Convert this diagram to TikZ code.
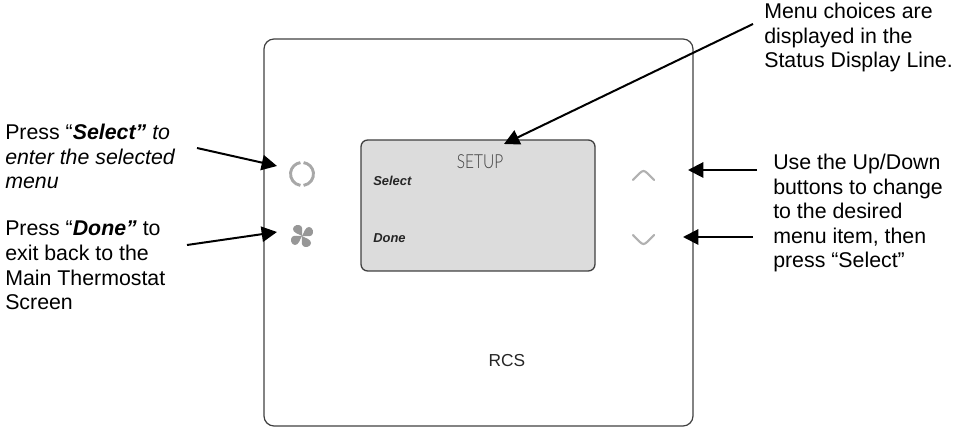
\documentclass[tikz,border=0pt]{standalone}
\usepackage{fontspec}
\setmainfont{Liberation Sans}
\newfontfamily\lcdfont{Lato Light}
\usetikzlibrary{arrows.meta}
\definecolor{framegray}{HTML}{404040}
\definecolor{lcdgray}{HTML}{DCDCDC}
\definecolor{icongray}{HTML}{A8A8A8}
\tikzset{
  calllabel/.style={anchor=north west,inner sep=0pt,align=left,font=\fontsize{16pt}{18.4pt}\selectfont},
  calloutarrow/.style={line width=1.5pt,-{Triangle[length=11.5pt,width=11.5pt]}},
  softkey/.style={anchor=west,inner sep=0pt,text=black!85,font=\fontsize{9.7pt}{11pt}\selectfont\bfseries\itshape},
  chevron/.style={draw=icongray!90,line width=1.6pt,line join=round,line cap=round}
}
\begin{document}
\begin{tikzpicture}[x=0.75pt,y=-0.75pt]
\useasboundingbox (0,0) rectangle (961,427);

% thermostat body and display
\draw[framegray,line width=0.9pt,rounded corners=7.5pt] (264,39) rectangle (693,426);
\draw[framegray,line width=1pt,fill=lcdgray,rounded corners=5pt] (361,140) rectangle (595,271);
\node[inner sep=0pt,text=black!75,font=\fontsize{14.5pt}{15pt}\lcdfont] (setup) at (480,162) {\scalebox{0.8}[1]{SETUP}};
\node[softkey] (selectkey) at (373,181) {Select};
\node[softkey] (donekey) at (373,238) {Done};
\node[inner sep=0pt,text=black!85,font=\fontsize{13pt}{14pt}\selectfont] (rcs) at (507,361) {RCS};

% buttons
\draw[icongray,line width=2.2pt] (302,174) ++(82:11.5) arc (82:-82:11.5);
\draw[icongray,line width=2.2pt] (302,174) ++(98:11.5) arc (98:262:11.5);
\foreach \ang in {0,90,180,270}
  \fill[icongray!90!black,shift={(302,236)},rotate=\ang]
    (0,0) .. controls (-3,-2) and (-9,-3) .. (-9,-7) .. controls (-9,-11) and (-3,-12) .. (-1,-10) .. controls (1,-8) and (0,-3) .. (0,0);
\draw[chevron] (633,180) .. controls (638,175) and (641,171) .. (643.5,171) .. controls (646,171) and (649,175) .. (654,180);
\draw[chevron] (633,235) .. controls (638,240) and (641,244) .. (643.5,244) .. controls (646,244) and (649,240) .. (654,235);

% labels
\node[calllabel] (selectnote) at (5,124) {Press ``\textbf{\textit{Select''}} \textit{to}\\\textit{enter the selected}\\\textit{menu}};
\node[calllabel] (donenote) at (5,221) {Press ``\textbf{\textit{Done''}} to\\exit back to the\\Main Thermostat\\Screen};
\node[calllabel] (statusnote) at (764,3) {Menu choices are\\displayed in the\\Status Display Line.};
\node[calllabel] (updownnote) at (773,154) {Use the Up/Down\\buttons to change\\to the desired\\menu item, then\\press ``Select''};

% arrows
\coordinate (selectstart) at (197,148);
\coordinate (selecttip) at (277,166);
\coordinate (donestart) at (187,245);
\coordinate (donetip) at (277,232);
\coordinate (statusstart) at (753,24);
\coordinate (statustip) at (504,144);
\coordinate (upstart) at (757,170);
\coordinate (uptip) at (688,170);
\coordinate (downstart) at (753,237);
\coordinate (downtip) at (683,237);
\draw[calloutarrow] (selectstart) -- (selecttip);
\draw[calloutarrow] (donestart) -- (donetip);
\draw[calloutarrow] (statusstart) -- (statustip);
\draw[calloutarrow] (upstart) -- (uptip);
\draw[calloutarrow] (downstart) -- (downtip);
\end{tikzpicture}
\end{document}
